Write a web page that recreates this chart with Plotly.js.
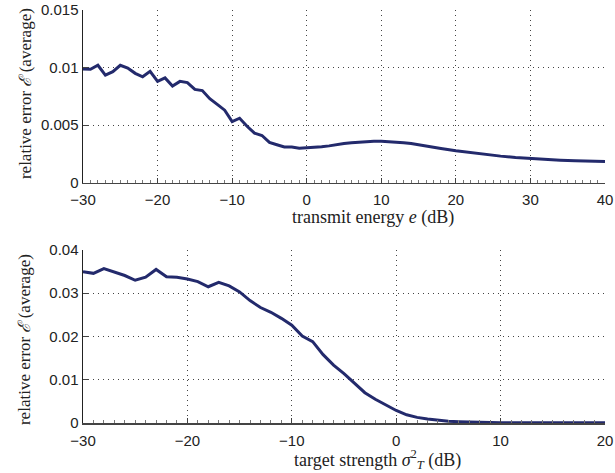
<!DOCTYPE html>
<html>
<head>
<meta charset="utf-8">
<script src="https://cdn.plot.ly/plotly-3.0.1.min.js"></script>
<style>html,body{margin:0;padding:0;background:#fff;}#chart{width:615px;height:473px;}</style>
</head>
<body>
<div id="chart"></div>
<script>
// Top panel: relative error vs transmit energy e (dB)
const energyDb = [-30,-29,-28,-27,-26,-25,-24,-23,-22,-21,-20,-19,-18,-17,-16,-15,-14,-13,-12,-11,-10,-9,-8,-7,-6,-5,-4,-3,-2,-1,0,1,2,3,4,5,6,7,8,9,10,11,12,13,14,15,16,18,20,22,24,26,28,30,32,34,36,38,40];
const errEnergy = [0.00987,0.00985,0.0102,0.00935,0.00965,0.0102,0.00996,0.0095,0.0092,0.00967,0.0088,0.0091,0.0084,0.0088,0.0087,0.0081,0.0080,0.0073,0.0068,0.0063,0.0053,0.0056,0.0049,0.0043,0.0041,0.0035,0.0033,0.0031,0.0031,0.0030,0.00304,0.00307,0.00312,0.0032,0.00332,0.0034,0.00347,0.00353,0.0036,0.0036,0.0036,0.00358,0.00354,0.00348,0.0034,0.00331,0.0032,0.00298,0.00277,0.0026,0.00244,0.00231,0.00219,0.0021,0.00202,0.00196,0.00191,0.00187,0.00184];

// Bottom panel: relative error vs target strength sigma_T^2 (dB)
const strengthDb = [-30,-29,-28,-27,-26,-25,-24,-23,-22,-21,-20,-19,-18,-17,-16,-15,-14,-13,-12,-11,-10,-9,-8,-7,-6,-5,-4,-3,-2,-1,0,1,2,3,4,5,6,7,8,9,10,12,14,16,18,20];
const errStrength = [0.0350,0.0346,0.0357,0.0349,0.0341,0.0330,0.0337,0.0355,0.0338,0.0337,0.0333,0.0327,0.0315,0.0325,0.0317,0.0303,0.0283,0.0267,0.0256,0.0242,0.0226,0.0201,0.0188,0.0158,0.0134,0.0114,0.0093,0.0070,0.0055,0.0041,0.0029,0.0019,0.0013,0.0009,0.0006,0.0004,0.0003,0.0002,0.00015,0.0001,0.00008,0.00006,0.00005,0.00004,0.00004,0.00004];

const topXTicks = [-30,-20,-10,0,10,20,30,40];
const topYTicks = [0,0.005,0.01,0.015];
const topYLabels = ['0','0.005','0.01','0.015'];
const botXTicks = [-30,-20,-10,0,10,20];
const botYTicks = [0,0.01,0.02,0.03,0.04];
const botYLabels = ['0','0.01','0.02','0.03','0.04'];

const topXTitle = 'transmit energy <i>e</i> (dB)';
const botXTitle = 'target strength <i>\u03c3</i><sup>2</sup><sub><i>T</i></sub> (dB)';
const yTitle = 'relative error <i>\u2130</i> (average)';

const lineColor = '#232a6c';
const tickFont = {family: 'Liberation Sans, Arial, sans-serif', size: 15, color: '#222'};
const xTitleFont = {family: 'Liberation Serif, Times New Roman, serif', size: 18, color: '#222'};
const yTitleFont = {family: 'Liberation Serif, Times New Roman, serif', size: 17, color: '#222'};

function xAxis(range, ticks, domainAnchor) {
  return {
    range: range, tickvals: ticks, ticktext: ticks.map(v => v < 0 ? '\u2212' + Math.abs(v) : String(v)),
    showgrid: true, gridcolor: '#444', griddash: '1px,4px', gridwidth: 1,
    zeroline: false, showline: true, linecolor: '#444', linewidth: 1.5,
    ticks: 'inside', ticklen: 5, tickcolor: '#444', tickfont: tickFont,
    ticklabelstandoff: 3,
    minor: {dtick: 1, ticks: 'inside', ticklen: 3, tickcolor: '#777', showgrid: false},
    anchor: domainAnchor,
    fixedrange: true
  };
}
function yAxis(range, ticks, labels, domain, anchor) {
  return {
    range: range, tickvals: ticks, ticktext: labels, domain: domain,
    showgrid: true, gridcolor: '#444', griddash: '1px,4px', gridwidth: 1,
    zeroline: false, showline: true, linecolor: '#222', linewidth: 1.5,
    ticks: 'inside', ticklen: 5, tickcolor: '#444', tickfont: tickFont,
    anchor: anchor,
    fixedrange: true
  };
}

const data = [
  {x: energyDb, y: errEnergy, type: 'scatter', mode: 'lines', line: {color: lineColor, width: 3}, xaxis: 'x', yaxis: 'y', hoverinfo: 'skip'},
  {x: strengthDb, y: errStrength, type: 'scatter', mode: 'lines', line: {color: lineColor, width: 3}, xaxis: 'x2', yaxis: 'y2', hoverinfo: 'skip'}
];

const layout = {
  width: 615, height: 473,
  margin: {l: 83, r: 10, t: 10, b: 50},
  paper_bgcolor: '#fff', plot_bgcolor: '#fff',
  showlegend: false,
  xaxis: xAxis([-30, 40], topXTicks, 'y'),
  yaxis: yAxis([0, 0.015], topYTicks, topYLabels, [0.5818, 1], 'x'),
  xaxis2: xAxis([-30, 20], botXTicks, 'y2'),
  yaxis2: yAxis([0, 0.04], botYTicks, botYLabels, [0, 0.4189], 'x2'),
  annotations: [
    {text: topXTitle, xref: 'paper', yref: 'paper', x: 0.5556, y: 0.4964, xanchor: 'center', yanchor: 'middle', showarrow: false, font: xTitleFont},
    {text: botXTitle, xref: 'paper', yref: 'paper', x: 0.565, y: -0.0885, xanchor: 'center', yanchor: 'middle', showarrow: false, font: xTitleFont},
    {text: yTitle, xref: 'paper', yref: 'paper', x: -0.111, y: 0.7966, xanchor: 'center', yanchor: 'middle', textangle: -90, showarrow: false, font: yTitleFont},
    {text: yTitle, xref: 'paper', yref: 'paper', x: -0.111, y: 0.201, xanchor: 'center', yanchor: 'middle', textangle: -90, showarrow: false, font: yTitleFont}
  ]
};

Plotly.newPlot('chart', data, layout, {displayModeBar: false, staticPlot: true});
</script>
</body>
</html>
